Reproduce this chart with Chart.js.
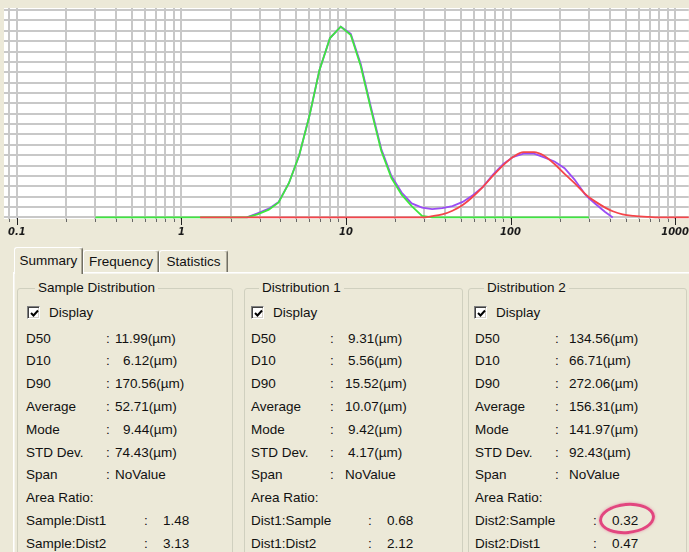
<!DOCTYPE html>
<html>
<head>
<meta charset="utf-8">
<script src="https://cdn.jsdelivr.net/npm/chart.js@4.4.1/dist/chart.umd.min.js"></script>
<style>
  html, body { margin: 0; padding: 0; }
  body {
    width: 689px; height: 552px; overflow: hidden; position: relative;
    background: #ece9d8; color: #111;
    font-family: "Liberation Sans", Arial, sans-serif; font-size: 13.5px;
  }
  #plot { position: absolute; left: 0; top: 0; width: 689px; height: 240px; }
  .tab {
    position: absolute; box-sizing: border-box; text-align: center;
    background: #ece9d8; border-top: 1px solid #fff; border-left: 1px solid #fff;
    border-right: 1px solid #716f64; border-radius: 3px 3px 0 0;
    box-shadow: inset -1px 0 0 #aca899;
  }
  .tab.sel { z-index: 2; }
  #panel {
    position: absolute; left: 13px; top: 272px; width: 720px; height: 320px;
    border-top: 1px solid #fff; border-left: 1px solid #fff;
    box-shadow: inset 1px 1px 0 #f6f5ef;
  }
  .grp {
    position: absolute; top: 288px; height: 300px; box-sizing: border-box;
    border: 1px solid #d0d0bf; border-radius: 3px;
  }
  .legend { position: absolute; top: 280px; line-height: 16px; background: #ece9d8; padding: 0 3px; }
  .t { position: absolute; line-height: 16px; white-space: pre; }
  .cb {
    position: absolute; width: 13px; height: 13px; box-sizing: border-box; background: #fff;
    border-top: 1px solid #808080; border-left: 1px solid #808080;
    border-right: 1px solid #fff; border-bottom: 1px solid #fff;
    box-shadow: inset 1px 1px 0 #404040, inset -1px -1px 0 #d4d0c8;
  }
  .cb svg { position: absolute; left: 1px; top: 1px; }
  #mark {
    position: absolute; left: 599px; top: 503px; width: 50px; height: 25px;
    border: 3px solid #e2467f; border-radius: 50%; transform: rotate(-5deg);
    box-shadow: 0 0 3px rgba(226, 70, 127, 0.55);
  }
</style>
</head>
<body>
<div id="plot"><canvas id="chart"></canvas></div>

<div id="panel"></div>
<div class="tab sel" style="left:14px;top:247px;width:69px;height:27px;line-height:25px;">Summary</div>
<div class="tab" style="left:83px;top:250px;width:76px;height:22px;line-height:21px;">Frequency</div>
<div class="tab" style="left:159px;top:250px;width:69px;height:22px;line-height:21px;">Statistics</div>

<div id="boxes"></div>

<script>
// particle size (um) shared by the three curves
var sizeUm = [0.3, 1.3, 2.5, 2.9, 3.4, 3.9, 4.5, 5.2, 6.0, 6.9, 8.0, 9.3, 10.7, 12.3, 14.2, 16.4, 18.9, 21.8, 25.1, 29.0,
              33.4, 38.5, 44.4, 51.2, 59.0, 68.0, 78.5, 90.5, 104, 120, 139, 160, 185, 213, 245, 283, 300, 326, 376, 418,
              480, 560, 700, 850, 1250];

var sampleVals = [null, null, 0, 0.4, 0.85, 1.5, 3.3, 6.0, 9.8, 14.2, 17.3, 18.4, 17.7, 14.8, 10.6, 6.6, 4.0, 2.4, 1.35, 0.95,
                  0.8, 0.9, 1.1, 1.5, 2.15, 2.95, 4.15, 5.15, 5.85, 6.15, 6.15, 5.8, 5.4, 4.75, 3.65, 2.25, 1.85, 1.35, 0.52, 0,
                  null, null, null, null, null];

var dist1Vals = [0, 0, 0, 0.3, 0.75, 1.45, 3.3, 6.0, 9.8, 14.2, 17.3, 18.4, 17.6, 14.6, 10.4, 6.4, 3.8, 2.2, 1.1, 0.15,
                 0, 0, 0, 0, 0, 0, 0, 0, 0, 0, 0, 0, 0, 0, 0, 0, 0, null, null, null,
                 null, null, null, null, null];

var dist2Vals = [null, 0, 0, 0, 0, 0, 0, 0, 0, 0, 0, 0, 0, 0, 0, 0, 0, 0, 0, 0,
                 0.12, 0.3, 0.65, 1.2, 2.0, 2.95, 4.05, 5.05, 5.85, 6.3, 6.3, 5.95, 5.15, 4.2, 3.3, 2.3, 1.95, 1.55, 0.95, 0.6,
                 0.3, 0.15, 0.05, 0, 0];

var gridTicks = [0.09, 0.1, 0.2, 0.3, 0.4, 0.5, 0.6, 0.7, 0.8, 0.9, 1, 2, 3, 4, 5, 6, 7, 8, 9,
                 10, 20, 30, 40, 50, 60, 70, 80, 90, 100, 200, 300, 400, 500, 600, 700, 800, 900, 1000];
var tickLabels = { 0.1: '0.1', 1: '1', 10: '10', 100: '100', 1000: '1000' };

// summary panel text
var rowLabels = ['D50', 'D10', 'D90', 'Average', 'Mode', 'STD Dev.', 'Span'];
var sampleStats = ['11.99(µm)', '6.12(µm)', '170.56(µm)', '52.71(µm)', '9.44(µm)', '74.43(µm)', 'NoValue'];
var dist1Stats = ['9.31(µm)', '5.56(µm)', '15.52(µm)', '10.07(µm)', '9.42(µm)', '4.17(µm)', 'NoValue'];
var dist2Stats = ['134.56(µm)', '66.71(µm)', '272.06(µm)', '156.31(µm)', '141.97(µm)', '92.43(µm)', 'NoValue'];

var toPoints = function(vals) {
    return sizeUm.map(function(x, i) { return { x: x, y: vals[i] }; });
};

var plotBg = {
    id: 'plotBg',
    beforeDraw: function(chart) {
        var a = chart.chartArea, ctx = chart.ctx;
        ctx.save();
        ctx.fillStyle = '#fff';
        ctx.fillRect(a.left, a.top, a.right - a.left, a.bottom - a.top);
        ctx.restore();
    }
};

// short tick marks under the axis, longer for the decades
var tickMarks = {
    id: 'tickMarks',
    afterDraw: function(chart) {
        var sx = chart.scales.x, ctx = chart.ctx, y0 = chart.chartArea.bottom;
        ctx.save();
        ctx.lineWidth = 1;
        sx.ticks.forEach(function(t) {
            var major = tickLabels[t.value] !== undefined;
            var px = Math.round(sx.getPixelForValue(t.value)) + 0.5;
            ctx.strokeStyle = major ? '#222' : '#666';
            ctx.beginPath();
            ctx.moveTo(px, y0 - (major ? 1 : 0));
            ctx.lineTo(px, y0 + (major ? 6 : 3));
            ctx.stroke();
        });
        ctx.restore();
    }
};

var initChart = function() {
    var ctx = document.getElementById('chart').getContext('2d');
    new Chart(ctx, {
        type: 'line',
        data: {
            datasets: [{
                label: 'Dist2',
                data: toPoints(dist2Vals),
                borderColor: '#f4454a',
                borderWidth: 1.8,
                cubicInterpolationMode: 'monotone',
                order: 0
            }, {
                label: 'Dist1',
                data: toPoints(dist1Vals),
                borderColor: '#3fe63f',
                borderWidth: 1.8,
                tension: 0,
                order: 1
            }, {
                label: 'Sample',
                data: toPoints(sampleVals),
                borderColor: '#9a4cf4',
                borderWidth: 1.8,
                tension: 0,
                order: 2
            }]
        },
        options: {
            responsive: true,
            maintainAspectRatio: false,
            animation: false,
            elements: { point: { radius: 0 } },
            layout: { padding: { left: 4, top: 8, right: 0, bottom: 0 } },
            plugins: { legend: { display: false }, tooltip: { enabled: false } },
            scales: {
                x: {
                    type: 'logarithmic',
                    min: 0.0836,
                    max: 1211,
                    afterBuildTicks: function(scale) {
                        scale.ticks = gridTicks.map(function(v) { return { value: v }; });
                    },
                    afterFit: function(scale) { scale.height = 21; },
                    border: { display: false },
                    grid: { color: '#c8c8c8', lineWidth: 2, tickLength: 7, tickColor: 'rgba(0,0,0,0)' },
                    ticks: {
                        autoSkip: false,
                        maxRotation: 0,
                        padding: 0,
                        color: '#1a1a1a',
                        font: { family: 'DejaVu Sans', size: 10, style: 'italic', weight: 'bold' },
                        callback: function(value) { return tickLabels[value] || ''; }
                    }
                },
                y: {
                    min: -0.15,
                    max: 20.2,
                    afterFit: function(scale) { scale.width = 0; },
                    border: { display: false },
                    grid: { color: '#c8c8c8', lineWidth: 2, drawTicks: false },
                    ticks: { display: false, stepSize: 1, includeBounds: false }
                }
            }
        },
        plugins: [plotBg, tickMarks]
    });
};

var boxes = [
    { left: 17, width: 216, title: 'Sample Distribution', titleX: 35, cbX: 27, labelX: 26, colonX: 106,
      valueX: 115, oneDigitShift: 8, stats: sampleStats, ratioColonX: 144, ratioValueX: 163,
      ratioLabels: ['Sample:Dist1', 'Sample:Dist2'], ratios: ['1.48', '3.13'] },
    { left: 244, width: 219, title: 'Distribution 1', titleX: 259, cbX: 251, labelX: 251, colonX: 330,
      valueX: 345, oneDigitShift: 3, stats: dist1Stats, ratioColonX: 368, ratioValueX: 387,
      ratioLabels: ['Dist1:Sample', 'Dist1:Dist2'], ratios: ['0.68', '2.12'] },
    { left: 468, width: 219, title: 'Distribution 2', titleX: 484, cbX: 474, labelX: 475, colonX: 555,
      valueX: 569, oneDigitShift: 0, stats: dist2Stats, ratioColonX: 593, ratioValueX: 612,
      ratioLabels: ['Dist2:Sample', 'Dist2:Dist1'], ratios: ['0.32', '0.47'] }
];

var buildPanel = function() {
    var host = document.getElementById('boxes');
    var html = '';
    var text = function(x, yc, s) {
        return '<div class="t" style="left:' + x + 'px;top:' + (yc - 8) + 'px">' + s + '</div>';
    };
    boxes.forEach(function(b) {
        html += '<div class="grp" style="left:' + b.left + 'px;width:' + b.width + 'px"></div>';
        html += '<div class="legend" style="left:' + b.titleX + 'px">' + b.title + '</div>';
        html += '<div class="cb" style="left:' + b.cbX + 'px;top:306px"><svg width="11" height="11">' +
                '<polyline points="2,5 4.5,7.5 9,2.5" fill="none" stroke="#000" stroke-width="2"/></svg></div>';
        html += text(b.cbX + 22, 313, 'Display');
        rowLabels.forEach(function(lbl, i) {
            var yc = 338.5 + i * 22.8;
            var v = b.stats[i];
            var shift = /^\d\./.test(v) ? b.oneDigitShift : 0;
            html += text(b.labelX, yc, lbl);
            html += text(b.colonX, yc, ':');
            html += text(b.valueX + shift, yc, v);
        });
        html += text(b.labelX, 338.5 + 7 * 22.8, 'Area Ratio:');
        b.ratioLabels.forEach(function(lbl, i) {
            var yc = 338.5 + (8 + i) * 22.8;
            html += text(b.labelX, yc, lbl);
            html += text(b.ratioColonX, yc, ':');
            html += text(b.ratioValueX, yc, b.ratios[i]);
        });
    });
    html += '<div id="mark"></div>';
    host.innerHTML = html;
};

buildPanel();
initChart();
</script>
</body>
</html>
